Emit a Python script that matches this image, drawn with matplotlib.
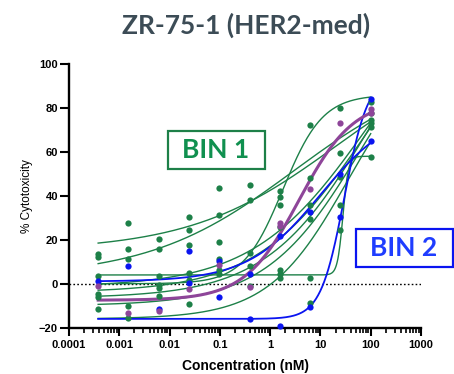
import numpy as np
import matplotlib
matplotlib.use("Agg")
import matplotlib.pyplot as plt
from matplotlib.patches import Rectangle
from matplotlib.ticker import FixedLocator, FixedFormatter, NullFormatter

# ---------------- data ----------------
conc = [0.00038, 0.0015, 0.0061, 0.024, 0.098, 0.39, 1.56, 6.25, 25, 100]

# green (BIN 1) replicate points per concentration
green_pts = [
    [13.5, 12.0, 3.5, -4.5, -6.0, -11.5],
    [27.6, 15.9, 11.4, -10.0, -15.6],
    [20.5, 15.9, 3.6, -0.5, -2.0, -5.5],
    [30.6, 24.6, 17.8, 4.9, 1.8, -9.1],
    [43.6, 31.1, 18.8, 11.4, 6.4, 4.4],
    [45.0, 38.2, 14.0, 8.2, -0.9],
    [42.0, 39.6, 35.8, 26.0, 6.2, 4.4, 2.7],
    [72.3, 48.3, 35.8, 29.6, 2.4, -8.6],
    [80.0, 59.5, 48.6, 36.0, 24.6],
    [82.9, 77.5, 74.5, 73.0, 71.5, 57.8],
]
# blue (BIN 2) points
blue_pts = [
    [1.4],
    [8.2],
    [-11.5],
    [15.0, 0.3],
    [10.5, -6.1],
    [4.6, -15.9],
    [21.8, -19.4],
    [32.8, -10.5],
    [49.9, 30.3],
    [84.0, 65.0],
]
# purple points
purple_pts = [
    [-1.2],
    [-13.3],
    [-12.5],
    [-2.4],
    [8.6],
    [-1.5],
    [27.5, 26.1],
    [43.0],
    [73.0],
    [79.4, 77.8],
]

# fitted 4PL curves: bottom, top, EC50 (nM), hill
green_bottom = [15, 3, 4, 0, -16, -1.5, -4, -6.5, -10]
green_top    = [110, 100, 58, 86, 110, 145, 140, 150, 135]
green_ec50   = [20, 3, 28, 1.8, 35, 90, 80, 100, 70]
green_hill   = [0.3, 0.3, 8, 1.1, 0.55, 0.38, 0.4, 0.42, 0.45]

blue_bottom = [1, -16]
blue_top    = [80, 95]
blue_ec50   = [10, 30]
blue_hill   = [0.6, 1.85]

purple_bottom = [-7.5]
purple_top    = [84]
purple_ec50   = [3.8]
purple_hill   = [0.8]

title = "ZR-75-1 (HER2-med)"
xtick_vals = [1e-4, 1e-3, 1e-2, 1e-1, 1, 10, 100, 1000]
xtick_labels = ["0.0001", "0.001", "0.01", "0.1", "1", "10", "100", "1000"]
ytick_vals = [-20, 0, 20, 40, 60, 80, 100]

# ---------------- style ----------------
GREEN = "#1d8048"
GREEN_TXT = "#10904f"
BLUE = "#0a14f0"
BLUE_TXT = "#1f3dff"
PURPLE = "#8e4599"
TITLE_C = "#3c4c56"

plt.rcParams['font.family'] = ['Liberation Sans', 'DejaVu Sans']

fig = plt.figure(figsize=(4.54, 3.74), dpi=100)
ax = fig.add_axes([69/454, 1-327.7/374, 352/454, 263.7/374])

def four_pl(x, b, t, ec, h):
    return b + (t - b) / (1 + (ec / x) ** h)

xs = np.logspace(np.log10(conc[0]), np.log10(conc[-1]), 400)

for b, t, ec, h in zip(green_bottom, green_top, green_ec50, green_hill):
    ax.plot(xs, four_pl(xs, b, t, ec, h), color=GREEN, lw=1.0, zorder=3)
for b, t, ec, h in zip(blue_bottom, blue_top, blue_ec50, blue_hill):
    ax.plot(xs, four_pl(xs, b, t, ec, h), color=BLUE, lw=1.3, zorder=4)
for b, t, ec, h in zip(purple_bottom, purple_top, purple_ec50, purple_hill):
    ax.plot(xs, four_pl(xs, b, t, ec, h), color=PURPLE, lw=2.2, zorder=5)

def scatter_group(pts, color, z):
    xx, yy = [], []
    for c, vals in zip(conc, pts):
        for v in vals:
            xx.append(c)
            yy.append(v)
    ax.plot(xx, yy, 'o', color=color, ms=4.5, mew=0, zorder=z, clip_on=False)

scatter_group(green_pts, GREEN, 6)
scatter_group(blue_pts, BLUE, 7)
scatter_group(purple_pts, PURPLE, 8)

ax.axhline(0, color='black', lw=1.0, ls=(0, (1.2, 1.6)), zorder=2)

ax.set_xscale('log')
ax.set_xlim(1e-4, 1e3)
ax.set_ylim(-20, 100)
for s in ['top', 'right']:
    ax.spines[s].set_visible(False)
for s in ['left', 'bottom']:
    ax.spines[s].set_linewidth(1.7)

ax.xaxis.set_major_locator(FixedLocator(xtick_vals))
ax.xaxis.set_major_formatter(FixedFormatter(xtick_labels))
minors = [m * 10.0 ** e for e in range(-4, 3) for m in range(2, 10)]
ax.xaxis.set_minor_locator(FixedLocator(minors))
ax.xaxis.set_minor_formatter(NullFormatter())
ax.set_yticks(ytick_vals)

ax.tick_params(axis='both', which='major', direction='out', width=1.5, labelsize=8)
ax.tick_params(axis='y', which='major', length=6.5, pad=1.5)
ax.tick_params(axis='x', which='major', length=6, pad=3)
ax.tick_params(axis='x', which='minor', direction='out', length=3.5, width=1.2)
for lab in ax.get_xticklabels() + ax.get_yticklabels():
    lab.set_fontweight('bold')

ax.set_xlabel("Concentration (nM)", fontsize=10, fontweight='bold', labelpad=6.5)
ax.set_ylabel("% Cytotoxicity", fontsize=8.5, labelpad=4)

fig.text(246/454, 1-25/374, title, ha='center', va='center', fontsize=19,
         fontweight='bold', color=TITLE_C, family=['Lato', 'DejaVu Sans'])

# BIN boxes
def bin_box(x0, y0, x1, y1, text, ec, tc):
    fx0, fy0 = x0/454, 1-y1/374
    w, h = (x1-x0)/454, (y1-y0)/374
    fig.patches.append(Rectangle((fx0, fy0), w, h, transform=fig.transFigure,
                                 facecolor='white', edgecolor=ec, lw=1.6, zorder=10))
    fig.text(fx0 + w/2, fy0 + h/2, text, ha='center', va='center', fontsize=19,
             fontweight='bold', color=tc, family=['Lato', 'DejaVu Sans'], zorder=11)

bin_box(167.5, 130.5, 264.5, 168.5, "BIN 1", GREEN, GREEN_TXT)
bin_box(355.5, 228.5, 452.5, 266.5, "BIN 2", BLUE, BLUE_TXT)

fig.savefig("out.png", dpi=100)
